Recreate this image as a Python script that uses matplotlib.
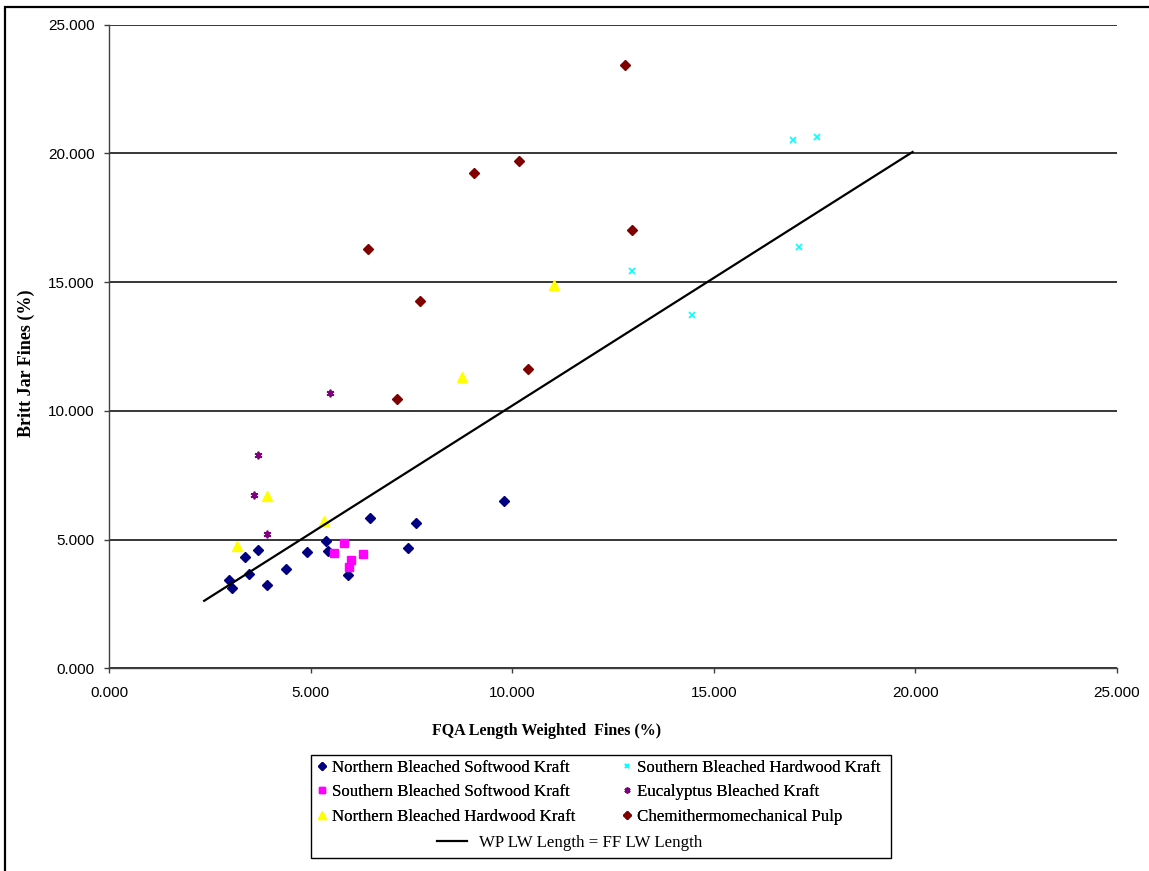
import matplotlib
matplotlib.use('Agg')
import matplotlib.pyplot as plt
from matplotlib.patches import Rectangle

# Northern Bleached Softwood Kraft
nbsk_x = [2.98, 3.06, 3.37, 3.47, 3.69, 3.92, 4.39, 4.90, 5.38, 5.44, 5.93, 6.47, 7.42, 7.61, 9.80]
nbsk_y = [3.43, 3.13, 4.32, 3.66, 4.58, 3.22, 3.87, 4.52, 4.93, 4.57, 3.62, 5.83, 4.68, 5.63, 6.49]
# Southern Bleached Softwood Kraft
sbsk_x = [5.59, 5.84, 6.00, 5.94, 6.31]
sbsk_y = [4.49, 4.85, 4.19, 3.93, 4.44]
# Northern Bleached Hardwood Kraft
nbhk_x = [3.17, 3.91, 5.33, 8.75, 11.04]
nbhk_y = [4.75, 6.70, 5.72, 11.32, 14.89]
# Southern Bleached Hardwood Kraft
sbhk_x = [16.97, 17.55, 12.96, 17.11, 14.47]
sbhk_y = [20.50, 20.64, 15.44, 16.35, 13.73]
# Eucalyptus Bleached Kraft
euc_x = [3.69, 3.59, 3.92, 5.48]
euc_y = [8.28, 6.72, 5.23, 10.68]
# Chemithermomechanical Pulp
ctmp_x = [12.79, 10.18, 9.06, 12.98, 6.42, 7.71, 10.40, 7.15]
ctmp_y = [23.43, 19.71, 19.22, 17.01, 16.27, 14.26, 11.61, 10.46]
# WP LW Length = FF LW Length
line_x = [2.36, 19.93]
line_y = [2.62, 20.05]

ticks = [0, 5, 10, 15, 20, 25]

fig = plt.figure(figsize=(11.49, 8.71), dpi=100)
ax = fig.add_axes([109/1149, 1-668.3/871, 1008/1149, 643.8/871])

p1, = ax.plot(nbsk_x, nbsk_y, 'D', color='#000080', ms=5.3, mec='#000080', ls='none', label='Northern Bleached Softwood Kraft')
p2, = ax.plot(sbsk_x, sbsk_y, 's', color='#FF00FF', ms=5.6, mec='#FF00FF', ls='none', label='Southern Bleached Softwood Kraft')
p3, = ax.plot(nbhk_x, nbhk_y, '^', color='#FFFF00', ms=6.8, mec='#FFFF00', ls='none', label='Northern Bleached Hardwood Kraft')
p4, = ax.plot(sbhk_x, sbhk_y, 'x', color='#00FFFF', ms=4.8, mew=1.2, ls='none', label='Southern Bleached Hardwood Kraft')
p5, = ax.plot(euc_x, euc_y, marker=(6, 2, 0), color='#800080', ms=5.5, mew=1.3, ls='none', label='Eucalyptus Bleached Kraft')
p6, = ax.plot(ctmp_x, ctmp_y, 'D', color='#800000', ms=5.3, mec='#800000', ls='none', label='Chemithermomechanical Pulp')
l1, = ax.plot(line_x, line_y, color='black', lw=1.6, label='WP LW Length = FF LW Length')

ax.set_xlim(0, 25)
ax.set_ylim(0, 25)
ax.set_xticks(ticks)
ax.set_yticks(ticks)
ax.set_xticklabels(['%.3f' % t for t in ticks], family='Liberation Sans', fontsize=11)
ax.set_yticklabels(['%.3f' % t for t in ticks], family='Liberation Sans', fontsize=11)
ax.tick_params(direction='out', length=3.8, width=1, color='#404040')
ax.tick_params(axis='y', pad=6.5)
ax.tick_params(axis='x', pad=9)
ax.yaxis.grid(True, color='black', lw=1.1)
ax.set_axisbelow(True)
for s in ['top', 'right']:
    ax.spines[s].set_visible(False)
for s in ['left', 'bottom']:
    ax.spines[s].set_color('#404040')
    ax.spines[s].set_linewidth(1)

ax.set_xlabel('FQA Length Weighted  Fines (%)', family='Liberation Serif', fontweight='bold', fontsize=11.5)
ax.xaxis.set_label_coords(0.4345, -0.085)
ax.set_ylabel('Britt Jar Fines (%)', family='Liberation Serif', fontweight='bold', fontsize=13)
ax.yaxis.set_label_coords(-0.073, 0.474)

# legend: six series in two columns, the line centred beneath
font = {'family': 'Liberation Serif', 'size': 12.2}
leg1 = fig.legend(handles=[p1, p2, p3, p4, p5, p6], ncol=2, frameon=False,
                  loc='upper left', bbox_to_anchor=(308/1149, 1-751.5/871),
                  prop=font, handlelength=0.7, handletextpad=0.24, columnspacing=2.65,
                  labelspacing=0.49, borderpad=0, markerscale=0.75)
leg2 = fig.legend(handles=[l1], frameon=False, loc='upper left',
                  bbox_to_anchor=(429/1149, 1-826.5/871),
                  prop=font, handlelength=1.77, handletextpad=0.7, borderpad=0)
fig.add_artist(leg1)
fig.patches.append(Rectangle((311/1149, 1-858/871), 580/1149, 103/871,
                             transform=fig.transFigure, fill=False, ec='black', lw=1))
# outer chart border (left and top edges visible)
fig.patches.append(Rectangle((5/1149, -0.1), 1.2, 1.1-7/871,
                             transform=fig.transFigure, fill=False, ec='black', lw=1.6))

fig.savefig('out.png', dpi=100)
